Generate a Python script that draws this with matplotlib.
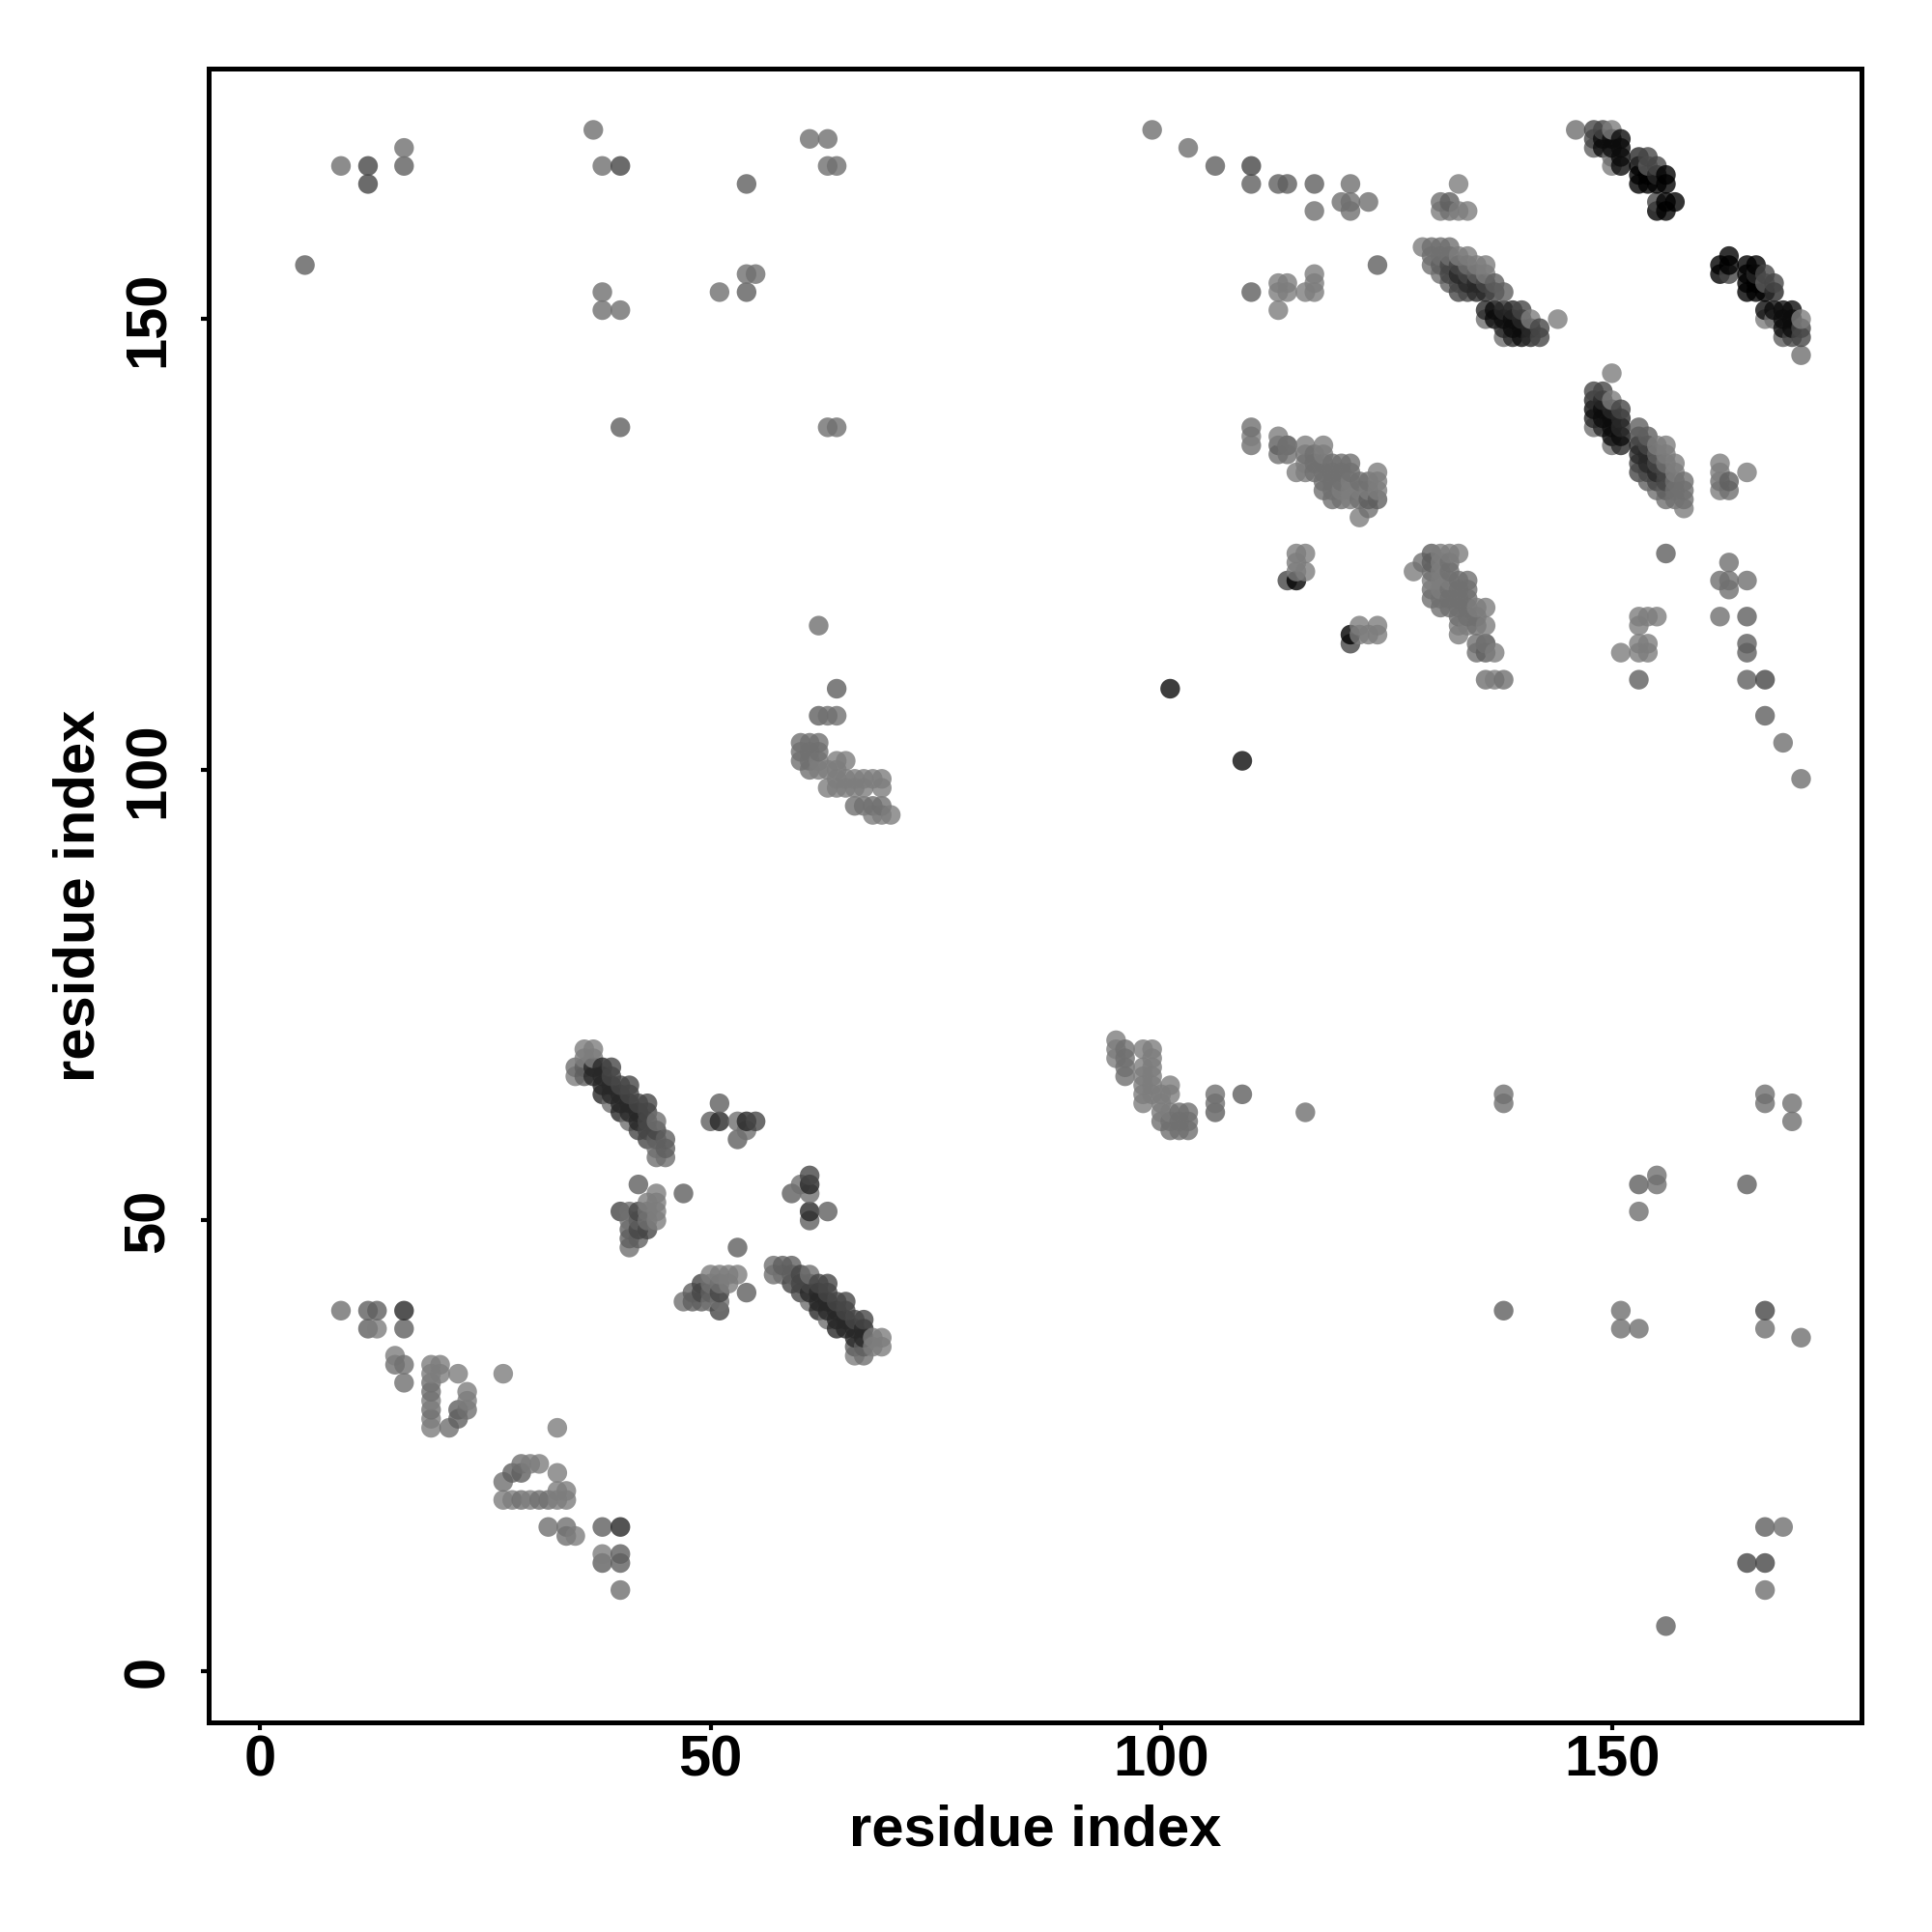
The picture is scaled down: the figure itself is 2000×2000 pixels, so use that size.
#!/usr/bin/env python
import matplotlib
matplotlib.use('agg')
import matplotlib.pyplot as plt
import numpy as np

# contact map is symmetric, only x > y is listed, s is an index into gray_levels
gray_levels = [None, 125, 112, 95, 70, 40, 12, 0]

far_x = [40, 40, 40, 40, 38, 38, 38, 35, 34, 34, 32, 138, 138, 138, 151, 151, 153, 153, 153, 155, 155, 156,
         165, 167, 167, 167, 169, 167, 167, 171, 165, 167, 167, 170, 170, 116, 109, 106, 106, 106]
far_y = [9, 12, 13, 16, 12, 13, 16, 15, 15, 16, 16, 40, 63, 64, 38, 40, 38, 51, 54, 54, 55, 5,
         12, 12, 9, 16, 16, 38, 40, 37, 54, 63, 64, 61, 63, 62, 64, 62, 63, 64]
far_s = [2, 3, 3, 5, 3, 1, 3, 1, 2, 2, 2, 3, 2, 2, 2, 2, 2, 2, 3, 2, 2, 3,
         4, 4, 2, 3, 2, 2, 4, 2, 3, 2, 2, 2, 2, 2, 3, 3, 2, 2]

loop_x = [27, 28, 29, 30, 31, 32, 33, 34, 33, 34, 33, 33, 27, 28, 29, 29, 30, 31]
loop_y = [19, 19, 19, 19, 19, 19, 19, 19, 20, 20, 22, 27, 21, 22, 22, 23, 23, 23]
loop_s = [1, 1, 2, 1, 2, 2, 1, 1, 1, 1, 1, 1, 2, 3, 3, 2, 1, 1]

cross_x = [63, 61, 61, 61, 59, 60, 61, 61, 53, 54]
cross_y = [51, 50, 51, 53, 53, 54, 54, 55, 47, 42]
cross_s = [3, 3, 5, 2, 3, 2, 5, 4, 3, 3]

blob_x = [50, 51, 52, 53, 49, 50, 51, 52, 48, 49, 50, 51, 47, 48, 49, 50, 51, 51]
blob_y = [44, 44, 44, 44, 43, 43, 43, 43, 42, 42, 42, 42, 41, 41, 41, 41, 41, 40]
blob_s = [1, 1, 1, 1, 4, 2, 2, 1, 3, 4, 3, 4, 2, 3, 3, 2, 2, 4]

strand_x = [57, 57, 58, 58, 59, 59, 59, 60, 60, 60, 61, 61, 61, 61, 62, 62, 62, 62, 63, 63, 63, 63, 63,
            64, 64, 64, 64, 65, 65, 65, 65, 66, 66, 66, 66, 66, 67, 67, 67, 67, 67, 68, 68, 69, 69]
strand_y = [45, 44, 45, 44, 45, 44, 43, 44, 43, 42, 44, 43, 42, 41, 43, 42, 41, 40, 43, 42, 41, 40, 39,
            41, 40, 39, 38, 41, 40, 39, 38, 39, 38, 37, 36, 35, 39, 38, 37, 36, 35, 37, 36, 37, 36]
strand_s = [2, 2, 3, 2, 3, 3, 4, 4, 4, 4, 2, 4, 5, 2, 4, 5, 5, 5, 4, 4, 5, 5, 2,
            4, 5, 5, 5, 4, 4, 5, 5, 4, 5, 5, 3, 1, 4, 5, 5, 3, 2, 1, 1, 1, 1]

patch_x = [95, 95, 95, 96, 96, 96, 96, 98, 98, 98, 98, 98, 98, 99, 99, 99, 99, 99, 99,
           100, 100, 100, 100, 101, 101, 101, 101, 101, 102, 102, 102, 103, 103, 103]
patch_y = [70, 69, 68, 69, 68, 67, 66, 69, 67, 66, 65, 64, 63, 69, 68, 67, 66, 65, 64,
           64, 63, 62, 61, 65, 64, 62, 61, 60, 62, 61, 60, 62, 61, 60]
patch_s = [1, 1, 1, 2, 2, 2, 2, 1, 1, 1, 1, 1, 1, 1, 1, 1, 1, 1, 1,
           1, 1, 1, 2, 1, 1, 1, 2, 2, 2, 2, 2, 2, 2, 2]

mid_x = [109, 171, 169, 167, 167, 165, 165, 165, 165, 165, 162, 162, 163, 163, 163, 156, 153, 151, 153, 154,
         153, 154, 153, 153, 154, 155, 165, 162, 162, 162, 162, 163, 163, 150, 121, 121, 122, 123, 124, 122, 124]
mid_y = [101, 99, 103, 106, 110, 110, 113, 114, 117, 121, 117, 121, 120, 121, 123, 124, 110, 113, 113, 113,
         114, 114, 116, 117, 117, 117, 133, 134, 133, 132, 131, 132, 131, 144, 114, 115, 115, 115, 115, 116, 116]
mid_s = [6, 2, 2, 3, 4, 3, 3, 3, 3, 2, 2, 2, 2, 2, 2, 3, 3, 1, 1, 1,
         1, 1, 1, 1, 1, 1, 1, 1, 1, 2, 1, 3, 2, 1, 4, 7, 1, 1, 1, 1, 1]

sheet_x = [128, 129, 130, 130, 130, 130, 130, 130, 131, 131, 131, 131, 131, 131, 131,
           132, 132, 132, 132, 132, 132, 132, 133, 133, 133, 133, 133, 133, 133, 133,
           134, 134, 134, 134, 134, 134, 135, 135, 135, 135, 135, 136, 136, 136, 136, 136, 137,
           136, 137, 138]
sheet_y = [122, 123, 124, 123, 122, 121, 120, 119, 124, 123, 122, 121, 120, 119, 118,
           124, 123, 122, 121, 120, 119, 118, 124, 121, 120, 119, 118, 117, 116, 115,
           121, 120, 119, 118, 117, 116, 118, 117, 116, 114, 113, 118, 116, 114, 113, 114, 113,
           110, 110, 110]
sheet_s = [1, 2, 3, 3, 2, 1, 2, 2, 1, 1, 1, 1, 1, 2, 2,
           1, 2, 2, 1, 2, 2, 2, 1, 2, 2, 2, 2, 2, 1, 1,
           2, 2, 2, 2, 2, 1, 1, 2, 2, 2, 2, 1, 1, 2, 3, 2, 1,
           2, 1, 2]

bandb_x = [148, 148, 148, 148, 148, 149, 149, 149, 149, 149, 150, 150, 150, 150, 150, 150,
           151, 151, 151, 151, 151, 153, 153, 153, 153, 153, 153, 154, 154, 154, 154, 154, 154,
           155, 155, 155, 155, 155, 155, 156, 156, 156, 156, 156, 156, 156,
           157, 157, 157, 157, 157, 158, 158, 158, 158]
bandb_y = [142, 141, 140, 139, 138, 142, 141, 140, 139, 138, 141, 140, 139, 138, 137, 136,
           140, 139, 138, 137, 136, 138, 137, 136, 135, 134, 133, 137, 136, 135, 134, 133, 132,
           136, 135, 134, 133, 132, 131, 136, 135, 134, 133, 132, 131, 130,
           134, 133, 132, 131, 130, 132, 131, 130, 129]
bandb_s = [4, 5, 6, 5, 2, 4, 5, 6, 6, 5, 1, 5, 6, 6, 6, 2,
           4, 5, 5, 6, 5, 3, 4, 5, 5, 4, 4, 3, 4, 5, 5, 4, 3,
           1, 3, 4, 5, 4, 2, 1, 1, 2, 4, 4, 3, 2,
           1, 1, 2, 2, 2, 2, 2, 2, 1]

banda_x = [163, 162, 163, 162, 163, 165, 166, 165, 166, 167, 165, 166, 167, 168, 165, 166, 167, 168,
           167, 168, 169, 170, 167, 168, 169, 170, 171, 169, 170, 171, 169, 170, 171, 171]
banda_y = [157, 156, 156, 155, 155, 156, 156, 155, 155, 155, 154, 154, 154, 154, 153, 153, 153, 153,
           151, 151, 151, 151, 150, 150, 150, 150, 150, 149, 149, 149, 148, 148, 148, 146]
banda_s = [7, 7, 7, 7, 4, 7, 7, 7, 5, 4, 7, 7, 3, 4, 7, 7, 7, 5,
           6, 6, 6, 6, 1, 2, 6, 6, 1, 6, 6, 4, 3, 4, 4, 2]

groups = [(far_x, far_y, far_s), (loop_x, loop_y, loop_s),
          (cross_x, cross_y, cross_s), (blob_x, blob_y, blob_s), (strand_x, strand_y, strand_s),
          (patch_x, patch_y, patch_s), (mid_x, mid_y, mid_s), (sheet_x, sheet_y, sheet_s),
          (bandb_x, bandb_y, bandb_s), (banda_x, banda_y, banda_s)]

x_lo, y_lo, s_lo = [], [], []
for gx, gy, gs in groups:
    assert len(gx) == len(gy) == len(gs)
    x_lo += list(gx)
    y_lo += list(gy)
    s_lo += list(gs)

x = np.array(x_lo + y_lo)
y = np.array(y_lo + x_lo)
s = np.array(s_lo + s_lo)

# R style column order, later points sit on top
order = np.lexsort((y, x))
x, y, s = x[order], y[order], s[order]
g = np.array([gray_levels[i] for i in s]) / 255.0
colors = np.column_stack([g, g, g, np.full(len(g), 0.8)])

plt.rcParams['font.family'] = ['Liberation Sans', 'DejaVu Sans']
plt.rcParams['font.weight'] = 'bold'

fig = plt.figure(figsize=(20, 20), dpi=100)
ax = fig.add_axes([0.108, 0.1085, 0.8555, 0.856])
ax.scatter(x, y, c=colors, s=215, linewidths=0, zorder=3)
ax.set_xlim(-5.68, 177.7)
ax.set_ylim(-5.68, 177.8)
ax.set_xticks([0, 50, 100, 150])
ax.set_yticks([0, 50, 100, 150])
ax.tick_params(axis='x', length=6, width=3, labelsize=43, pad=3)
ax.tick_params(axis='y', length=6, width=3, labelsize=43, pad=19)
for label in ax.get_yticklabels():
    label.set_rotation(90)
    label.set_va('center')
for side in ax.spines.values():
    side.set_linewidth(3.6)
ax.set_xlabel('residue index', fontsize=43, fontweight='bold', labelpad=12)
ax.set_ylabel('residue index', fontsize=43, fontweight='bold', labelpad=12)
fig.savefig('out.png', dpi=100)
